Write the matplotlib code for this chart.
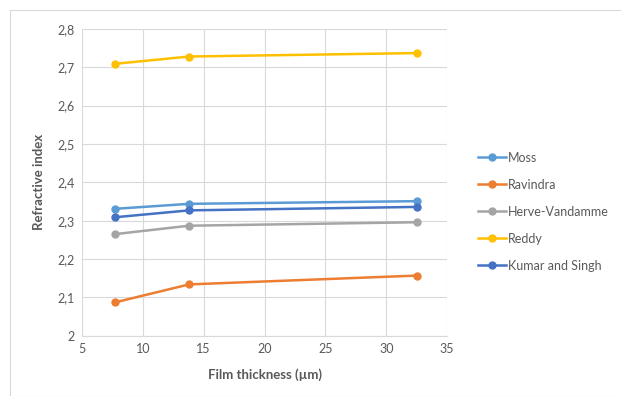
import matplotlib.pyplot as plt
from matplotlib.ticker import FuncFormatter
from matplotlib.patches import Rectangle

thickness = [7.7, 13.8, 32.5]
moss = [2.331, 2.344, 2.351]
ravindra = [2.087, 2.134, 2.157]
herve = [2.265, 2.287, 2.296]
reddy = [2.709, 2.728, 2.737]
kumar = [2.309, 2.327, 2.336]

series = [('Moss', moss, '#5B9BD5'),
          ('Ravindra', ravindra, '#ED7D31'),
          ('Herve-Vandamme', herve, '#A5A5A5'),
          ('Reddy', reddy, '#FFC000'),
          ('Kumar and Singh', kumar, '#4472C4')]

plt.rcParams['font.family'] = ['Lato', 'DejaVu Sans']

fig = plt.figure(figsize=(6.21, 3.96), dpi=100)
fig.patches.append(Rectangle((10/621, 0), 1, 1 - 10/396, transform=fig.transFigure,
                             fill=False, edgecolor='#D9D9D9', linewidth=0.8))
ax = fig.add_axes([0.132, 0.152, 0.588, 0.775])

for name, vals, col in series:
    ax.plot(thickness, vals, color=col, lw=1.8, marker='o', ms=5, label=name)

ax.set_xlim(5, 35)
ax.set_ylim(2, 2.8)
ax.set_xticks(range(5, 36, 5))
ax.set_yticks([2 + 0.1*i for i in range(9)])
ax.yaxis.set_major_formatter(FuncFormatter(lambda v, p: ('%g' % round(v, 1)).replace('.', ',')))
ax.grid(True, color='#D9D9D9', lw=0.8)
ax.set_axisbelow(True)
for s in ['top', 'right', 'left']:
    ax.spines[s].set_visible(False)
ax.spines['bottom'].set_color('#D9D9D9')
ax.tick_params(length=0, labelsize=9, labelcolor='#595959', pad=5)

ax.set_xlabel('Film thickness (µm)', fontsize=9.5, fontweight='bold', color='#595959', labelpad=10)
ax.set_ylabel('Refractive index', fontsize=9.5, fontweight='bold', color='#595959', labelpad=9)

fig.legend(loc='center left', bbox_to_anchor=(0.752, 0.465), frameon=False,
           fontsize=9, labelcolor='#595959', handlelength=2.2, handletextpad=0.2,
           labelspacing=1.2)

fig.savefig('out.png', dpi=100)
